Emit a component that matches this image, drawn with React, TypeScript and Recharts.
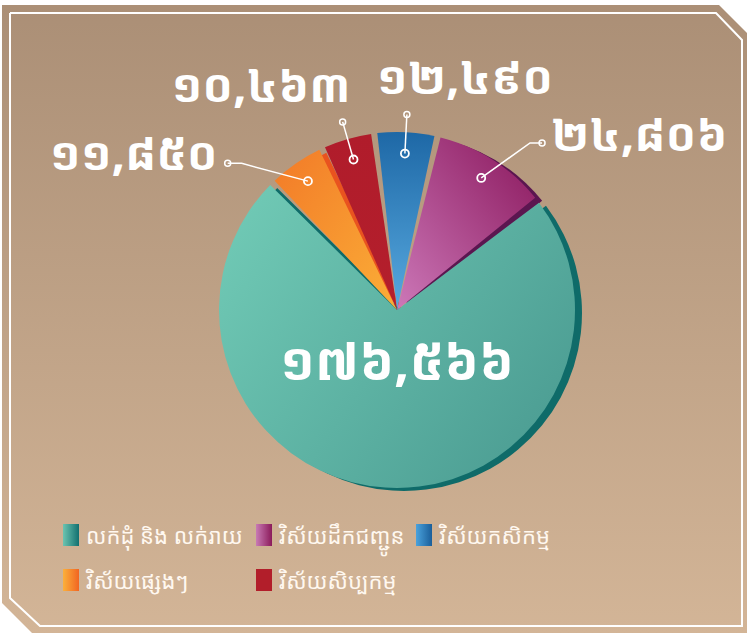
import React from 'react';
import { PieChart, Pie, Cell, Legend } from 'recharts';

// Data (pie order, counter-clockwise from the left edge of the big slice)
const categories = ['លក់ដុំ និង លក់រាយ', 'វិស័យដឹកជញ្ជូន', 'វិស័យកសិកម្ម', 'វិស័យសិប្បកម្ម', 'វិស័យផ្សេងៗ'];
const values = [176566, 24806, 12490, 10463, 11850];
const legendOrder = [0, 1, 2, 4, 3];

const gradIds = ['gGreen', 'gPurple', 'gBlue', 'gRed', 'gOrange'];
const shadowColors = ['#0f6b69', '#5b1650', 'none', 'none', '#e9531f'];
const legendSwatch = [
  'linear-gradient(90deg,#6cc4b0,#127070)',
  'linear-gradient(90deg,#c87ab4,#8b1a5a)',
  'linear-gradient(90deg,#4aa2dc,#1a5e9a)',
  '#b21e2a',
  'linear-gradient(90deg,#fbb03b,#f26522)',
];

const KH = ['០', '១', '២', '៣', '៤', '៥', '៦', '៧', '៨', '៩'];
const toKhmer = (n: number) => n.toLocaleString('en-US').replace(/\d/g, (d) => KH[+d]);

const data = categories.map((name, i) => ({ name, value: values[i] }));
const total = values.reduce((a, b) => a + b, 0);
const othersDeg = ((total - values[0]) / total) * 360;
const START = 90 + othersDeg / 2;

const W = 747;
const H = 633;
const CX = 392;
const CY = 305;
const R = 178;
const RAD = Math.PI / 180;
const FONT = "'Noto Sans Khmer', 'Khmer OS', 'Khmer OS System', 'Hanuman', 'Noto Sans', sans-serif";

const polar = (cx: number, cy: number, r: number, a: number) => ({
  x: cx + r * Math.cos(-a * RAD),
  y: cy + r * Math.sin(-a * RAD),
});

const renderLabel = (props: any) => {
  const { cx, cy, midAngle, outerRadius, index, value } = props;
  const txt = toKhmer(value);
  if (index === 0) {
    return (
      <text x={cx} y={cy + 56} textAnchor="middle" dominantBaseline="middle" fill="#ffffff"
        fontSize={52} fontWeight={700} fontFamily={FONT}>{txt}</text>
    );
  }
  const c = Math.cos(midAngle * RAD);
  const side = Math.abs(c) > 0.5;
  const p1 = polar(cx, cy, outerRadius * 0.88, midAngle);
  const a2 = side ? midAngle + (c < 0 ? 12 : -6) : midAngle;
  const p2 = polar(cx, cy, outerRadius * (side ? 1.2 : 1.1), a2);
  let p3 = p2;
  let tx = 0;
  let ty = 0;
  let anchor: 'start' | 'end' | 'middle' = 'start';
  if (c < -0.5) {
    p3 = { x: p2.x - 14, y: p2.y };
    tx = p3.x - 10; ty = p3.y - 6; anchor = 'end';
  } else if (c > 0.5) {
    p3 = { x: p2.x + 12, y: p2.y };
    tx = p3.x + 9; ty = p3.y - 4; anchor = 'start';
  } else if (c < -0.15) {
    tx = p2.x + 8; ty = p2.y - 32; anchor = 'end';
  } else {
    tx = p2.x - 30; ty = p2.y - 33; anchor = 'start';
  }
  const d = p3 === p2 ? `M${p1.x},${p1.y}L${p2.x},${p2.y}` : `M${p1.x},${p1.y}L${p2.x},${p2.y}L${p3.x},${p3.y}`;
  return (
    <g>
      <path d={d} stroke="#ffffff" strokeWidth={1.5} fill="none" />
      <circle cx={p1.x} cy={p1.y} r={4} fill="none" stroke="#ffffff" strokeWidth={1.8} />
      <circle cx={p3.x} cy={p3.y} r={3} fill="none" stroke="#ffffff" strokeWidth={1.5} />
      <text x={tx} y={ty} textAnchor={anchor} dominantBaseline="middle" fill="#ffffff"
        fontSize={46} fontWeight={700} fontFamily={FONT}>{txt}</text>
    </g>
  );
};

const LegendContent = () => (
  <div style={{ display: 'grid', gridTemplateColumns: '193px 160px 200px', rowGap: 13, paddingLeft: 63, fontFamily: FONT }}>
    {legendOrder.map((i) => (
      <div key={i} style={{ display: 'flex', alignItems: 'center', height: 32 }}>
        <span style={{ display: 'inline-block', width: 16, height: 22, background: legendSwatch[i], marginRight: 7, flexShrink: 0 }} />
        <span style={{ color: '#fff8f0', fontSize: 22, whiteSpace: 'nowrap' }}>{categories[i]}</span>
      </div>
    ))}
  </div>
);

export default function App() {
  return (
    <div style={{ position: 'absolute', left: 0, top: 0, width: W, height: H, background: '#ffffff' }}>
      <svg width={W} height={H} style={{ position: 'absolute', left: 0, top: 0 }}>
        <defs>
          <linearGradient id="bg" x1="0" y1="0" x2="0" y2="1">
            <stop offset="0" stopColor="#ab8f76" />
            <stop offset="1" stopColor="#d3b597" />
          </linearGradient>
        </defs>
        <polygon points="2,5 719,5 747,33 747,633 32,633 2,603" fill="url(#bg)" />
        <polyline points="10,13 716,13 742,40 742,626 40,626 10,598 10,13" fill="none" stroke="#ffffff" strokeWidth={2} />
      </svg>
      <div style={{ position: 'absolute', left: 0, top: 0 }}>
        <PieChart width={W} height={H}>
          <defs>
            <linearGradient id="gGreen" x1="0" y1="0.2" x2="1" y2="0.8">
              <stop offset="0" stopColor="#6fc8b4" />
              <stop offset="1" stopColor="#4b9c92" />
            </linearGradient>
            <linearGradient id="gPurple" x1="0" y1="1" x2="1" y2="0">
              <stop offset="0" stopColor="#cc78b8" />
              <stop offset="1" stopColor="#8a175c" />
            </linearGradient>
            <linearGradient id="gBlue" x1="0" y1="1" x2="0" y2="0">
              <stop offset="0" stopColor="#58aae0" />
              <stop offset="1" stopColor="#1e68a6" />
            </linearGradient>
            <linearGradient id="gRed" x1="0" y1="0" x2="0" y2="1">
              <stop offset="0" stopColor="#b01c2b" />
              <stop offset="1" stopColor="#b41f2c" />
            </linearGradient>
            <linearGradient id="gOrange" x1="0" y1="0" x2="1" y2="1">
              <stop offset="0" stopColor="#f27a28" />
              <stop offset="1" stopColor="#fbae37" />
            </linearGradient>
          </defs>
          <Pie data={data} dataKey="value" nameKey="name" cx={CX + 7} cy={CY + 3} outerRadius={R}
            startAngle={START} endAngle={START + 360} paddingAngle={2} stroke="none" isAnimationActive={false} legendType="none">
            {data.map((_, i) => <Cell key={i} fill={shadowColors[i]} />)}
          </Pie>
          <Pie data={data} dataKey="value" nameKey="name" cx={CX} cy={CY} outerRadius={R}
            startAngle={START} endAngle={START + 360} paddingAngle={2} stroke="none" isAnimationActive={false}
            label={renderLabel} labelLine={false}>
            {data.map((_, i) => <Cell key={i} fill={`url(#${gradIds[i]})`} />)}
          </Pie>
          <Legend content={LegendContent} wrapperStyle={{ position: 'absolute', left: 0, top: 519, width: W }} />
        </PieChart>
      </div>
    </div>
  );
}
